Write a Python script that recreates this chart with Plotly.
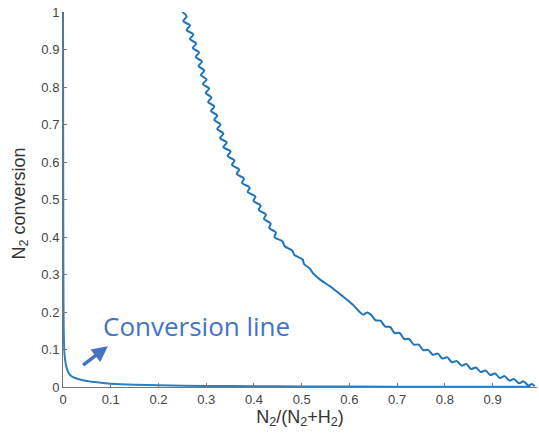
import plotly.graph_objects as go

# Conversion line (left, hugging the axes)
conv_x = [0, 0.0004, 0.0008, 0.0015, 0.003, 0.006, 0.01, 0.015, 0.02, 0.03, 0.05,
          0.075, 0.1, 0.15, 0.2, 0.3, 0.4, 0.5, 0.7, 0.85, 0.98]
conv_y = [1.0, 0.6, 0.3, 0.15, 0.09, 0.06, 0.042, 0.032, 0.027, 0.022, 0.016,
          0.012, 0.009, 0.006, 0.0045, 0.003, 0.002, 0.0015, 0.001, 0.0008, 0.0005]

# Wavy curve (upper steep part, middle, lower shallow part)
wave_x = [0.250, 0.259, 0.252, 0.266, 0.259, 0.273, 0.266, 0.279, 0.272, 0.285,
          0.278, 0.291, 0.284, 0.296, 0.289, 0.301, 0.293, 0.306, 0.299, 0.311,
          0.304, 0.317, 0.310, 0.323, 0.317, 0.330, 0.323, 0.336, 0.329, 0.343,
          0.336, 0.351, 0.345, 0.359, 0.354, 0.369, 0.364, 0.379, 0.375, 0.391,
          0.387, 0.403, 0.399, 0.414, 0.410, 0.425, 0.421, 0.435, 0.432, 0.446,
          0.443, 0.460, 0.464, 0.480, 0.485, 0.502, 0.505, 0.517, 0.524,
          0.540, 0.560, 0.583, 0.605, 0.629, 0.637, 0.645,
          0.655, 0.665, 0.675, 0.685, 0.695, 0.705, 0.715, 0.725, 0.735, 0.745,
          0.755, 0.765, 0.775, 0.785, 0.795, 0.805, 0.815, 0.825, 0.835, 0.845,
          0.855, 0.865, 0.875, 0.885, 0.895, 0.905, 0.915, 0.925, 0.935, 0.945,
          0.955, 0.965, 0.975, 0.982, 0.988]
wave_y = [1.000, 0.988, 0.976, 0.964, 0.952, 0.940, 0.928, 0.916, 0.904, 0.892,
          0.880, 0.868, 0.856, 0.844, 0.832, 0.820, 0.808, 0.796, 0.784, 0.772,
          0.760, 0.748, 0.736, 0.724, 0.712, 0.700, 0.688, 0.676, 0.664, 0.652,
          0.640, 0.628, 0.616, 0.604, 0.592, 0.580, 0.568, 0.556, 0.544, 0.532,
          0.520, 0.508, 0.496, 0.484, 0.472, 0.460, 0.448, 0.436, 0.424, 0.412,
          0.400, 0.388, 0.376, 0.364, 0.352, 0.340, 0.328, 0.316, 0.303,
          0.285, 0.268, 0.245, 0.222, 0.193, 0.199, 0.193,
          0.178, 0.177, 0.161, 0.160, 0.144, 0.144, 0.128, 0.128, 0.113, 0.113,
          0.098, 0.099, 0.086, 0.089, 0.076, 0.079, 0.066, 0.069, 0.057, 0.061,
          0.048, 0.052, 0.040, 0.044, 0.032, 0.036, 0.024, 0.029, 0.017, 0.021,
          0.010, 0.015, 0.004, 0.008, 0.002]

x_ticks = [0, 0.1, 0.2, 0.3, 0.4, 0.5, 0.6, 0.7, 0.8, 0.9]
y_ticks = [0, 0.1, 0.2, 0.3, 0.4, 0.5, 0.6, 0.7, 0.8, 0.9, 1]

line_color = "#1f74bb"
font_family = "Liberation Sans, Arial, sans-serif"

fig = go.Figure()
fig.add_trace(go.Scatter(x=conv_x, y=conv_y, mode="lines",
                         line=dict(color="#2a80c2", width=2, shape="spline", smoothing=0.6),
                         showlegend=False, hoverinfo="skip"))
fig.add_trace(go.Scatter(x=wave_x, y=wave_y, mode="lines",
                         line=dict(color=line_color, width=2, shape="spline", smoothing=0.9),
                         showlegend=False, hoverinfo="skip"))

fig.add_annotation(x=0.080, y=0.162, xref="x", yref="y", text="Conversion line",
                   showarrow=False, xanchor="left", yanchor="middle",
                   font=dict(family="Open Sans, sans-serif", size=26, color="#4472c4"))
fig.add_annotation(x=0.094, y=0.109, ax=0.039, ay=0.055, xref="x", yref="y",
                   axref="x", ayref="y", text="", showarrow=True,
                   arrowhead=2, arrowsize=0.9, arrowwidth=3.5, arrowcolor="#4472c4")

# y-axis title as rotated text, placed like the reference
fig.add_annotation(x=0, y=0.5, xref="paper", yref="paper", text="N<sub>2</sub> conversion",
                   showarrow=False, textangle=-90, xanchor="center", yanchor="middle",
                   xshift=-43, yshift=-4,
                   font=dict(family=font_family, size=18, color="#333333"))

fig.update_layout(
    width=539, height=439,
    margin=dict(l=63, r=2, t=12, b=52),
    paper_bgcolor="white", plot_bgcolor="white",
    font=dict(family=font_family, color="#444444", size=13),
    xaxis=dict(range=[0, 0.993], tickvals=x_ticks, ticktext=[f"{v:g}" for v in x_ticks],
               automargin=False, ticklabeloverflow="allow",
               showgrid=False, zeroline=False, showline=True, linecolor="#777777",
               linewidth=1, ticks="inside", ticklen=4, tickcolor="#777777",
               tickfont=dict(size=13, color="#444444"),
               title=dict(text="N<sub>2</sub>/(N<sub>2</sub>+H<sub>2</sub>)", standoff=4,
                          font=dict(size=18, color="#333333"))),
    yaxis=dict(range=[0, 1], tickvals=y_ticks, ticktext=[f"{v:g}" for v in y_ticks],
               automargin=False, ticklabeloverflow="allow",
               showgrid=False, zeroline=False, showline=True, linecolor="#777777",
               linewidth=1, ticks="inside", ticklen=4, tickcolor="#777777",
               tickfont=dict(size=13, color="#444444")),
)

fig.write_html("out.html", config={"displayModeBar": False},
               post_script="document.body.style.margin='0';")
